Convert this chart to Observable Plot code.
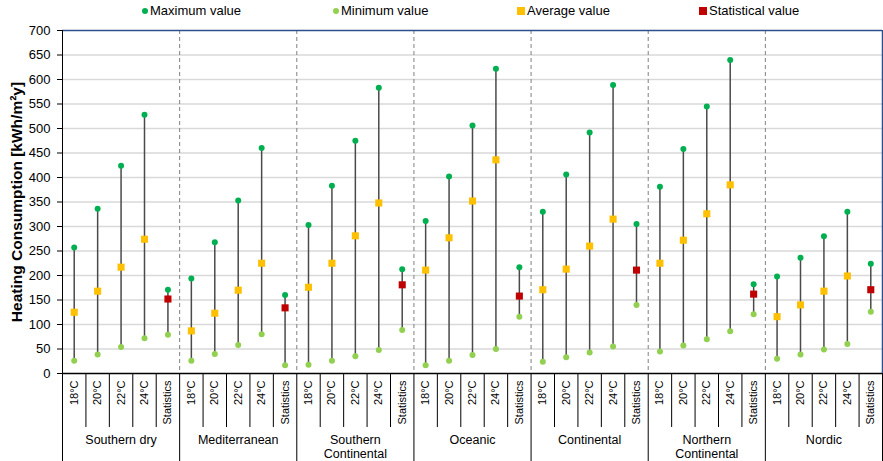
<!DOCTYPE html>
<html>
<head>
<meta charset="utf-8">
<script src="https://cdn.jsdelivr.net/npm/d3@7"></script>
<script src="https://cdn.jsdelivr.net/npm/@observablehq/plot@0.6"></script>
<style>
  html, body { margin: 0; padding: 0; background: #fff; }
  body { width: 883px; height: 461px; overflow: hidden; font-family: "Liberation Sans", Arial, sans-serif; }
  #legend { position: relative; height: 20px; font-size: 13px; color: #000; }
  #legend .item { position: absolute; top: 3px; display: flex; align-items: center; white-space: nowrap; }
  #legend .sw { display: inline-block; margin-right: 2px; }
</style>
</head>
<body>
<div id="legend"></div>
<div id="chart"></div>
<script>
// ---- data ----
const groups = ["Southern dry", "Mediterranean", "Southern\nContinental", "Oceanic", "Continental", "Northern\nContinental", "Nordic"];
const categories = ["18°C", "20°C", "22°C", "24°C", "Statistics"];
const maxValues = [
  [257, 336, 424, 528, 171],
  [194, 268, 353, 460, 160],
  [303, 383, 475, 583, 213],
  [311, 402, 506, 622, 217],
  [330, 406, 492, 589, 305],
  [381, 458, 545, 640, 182],
  [198, 236, 280, 330, 224]
];
const minValues = [
  [26, 39, 54, 72, 79],
  [26, 40, 58, 80, 17],
  [18, 26, 35, 48, 89],
  [17, 26, 38, 50, 116],
  [24, 33, 43, 55, 140],
  [45, 57, 70, 86, 121],
  [30, 39, 49, 60, 126]
];
const averageValues = [
  [125, 168, 217, 274],
  [87, 123, 170, 225],
  [176, 225, 281, 348],
  [211, 277, 352, 436],
  [171, 213, 260, 315],
  [225, 272, 326, 385],
  [116, 140, 168, 199]
];
const statisticalValues = [152, 134, 181, 158, 211, 162, 171];
const yTicks = d3.range(0, 701, 50);
const yLabel = "Heating Consumption [kWh/m²y]";

// ---- table built from the arrays ----
const nCat = categories.length;
const rows = [];
groups.forEach((g, gi) => {
  categories.forEach((c, ci) => {
    const isStat = ci === nCat - 1;
    rows.push({
      group: g, cat: c, xi: gi * nCat + ci + 0.5,
      max: maxValues[gi][ci], min: minValues[gi][ci],
      avg: isStat ? null : averageValues[gi][ci],
      stat: isStat ? statisticalValues[gi] : null
    });
  });
});
const nAll = rows.length;
const catBounds = d3.range(0, nAll + 1).filter(b => b % nCat !== 0);
const groupBounds = d3.range(0, groups.length + 1).map(i => i * nCat);
const groupCenters = groups.map((g, i) => ({label: g, x: i * nCat + nCat / 2}));

const colors = {max: "#00b050", min: "#92d050", avg: "#ffc000", stat: "#c00000"};

// ---- legend ----
const legendItems = [
  {label: "Maximum value", color: colors.max, shape: "circle", left: 142},
  {label: "Minimum value", color: colors.min, shape: "circle", left: 333},
  {label: "Average value", color: colors.avg, shape: "square", left: 517},
  {label: "Statistical value", color: colors.stat, shape: "square", left: 699}
];
const legend = document.getElementById("legend");
legendItems.forEach(it => {
  const d = document.createElement("div");
  d.className = "item";
  d.style.left = it.left + "px";
  const sw = document.createElement("span");
  sw.className = "sw";
  if (it.shape === "circle") {
    sw.style.cssText = `width:6px;height:6px;border-radius:50%;background:${it.color};margin-right:2px`;
  } else {
    sw.style.cssText = `width:8px;height:8px;background:${it.color};margin-right:2px`;
  }
  d.appendChild(sw);
  d.appendChild(document.createTextNode(it.label));
  legend.appendChild(d);
});

// ---- chart ----
const chart = Plot.plot({
  width: 883,
  height: 441,
  marginLeft: 62,
  marginRight: 1,
  marginTop: 10,
  marginBottom: 88,
  style: {fontFamily: "Liberation Sans, Arial, sans-serif", fontSize: "13px", color: "#000", background: "#fff"},
  x: {domain: [0, nAll], axis: null},
  y: {domain: [0, 700], axis: null},
  marks: [
    Plot.ruleY(yTicks.filter(t => t > 0 && t < 700), {stroke: "#d9d9d9", strokeWidth: 1.3}),
    Plot.ruleX(groupBounds.slice(1, -1), {stroke: "#808080", strokeDasharray: "4,3", strokeWidth: 1}),
    Plot.axisY({ticks: yTicks, tickSize: 5, tickPadding: 7, label: null, fontSize: 13}),
    Plot.ruleX(rows, {x: "xi", y1: "min", y2: "max", stroke: "#4a4a4a", strokeWidth: 1.5}),
    Plot.dot(rows, {x: "xi", y: "max", r: 3, fill: colors.max}),
    Plot.dot(rows, {x: "xi", y: "min", r: 3, fill: colors.min}),
    Plot.dot(rows.filter(d => d.avg != null), {x: "xi", y: "avg", symbol: "square", r: 4, fill: colors.avg}),
    Plot.dot(rows.filter(d => d.stat != null), {x: "xi", y: "stat", symbol: "square", r: 4, fill: colors.stat}),
    Plot.ruleY([700], {stroke: "#2f4f8a", strokeWidth: 1.5}),
    Plot.ruleX([nAll], {stroke: "#2f4f8a", strokeWidth: 1.5}),
    Plot.ruleX([0], {stroke: "#000", strokeWidth: 1}),
    Plot.ruleY([0], {stroke: "#000", strokeWidth: 1.3}),
    Plot.axisX({ticks: catBounds, tickSize: 54, tickFormat: () => "", stroke: "#000", strokeWidth: 1}),
    Plot.axisX({ticks: groupBounds, tickSize: 88, tickFormat: () => "", stroke: "#000", strokeWidth: 1}),
    Plot.text(rows, {x: "xi", text: "cat", frameAnchor: "bottom", dy: 7, rotate: -90, textAnchor: "end", lineAnchor: "middle", fontSize: 11}),
    Plot.text(groupCenters, {x: "x", text: "label", frameAnchor: "bottom", dy: 61, lineAnchor: "top", fontSize: 12.5, lineHeight: 1.08}),
    Plot.text([yLabel], {frameAnchor: "left", dx: -45, rotate: -90, textAnchor: "middle", lineAnchor: "middle", fontSize: 15.5, fontWeight: "bold"})
  ]
});
document.getElementById("chart").appendChild(chart);
</script>
</body>
</html>
